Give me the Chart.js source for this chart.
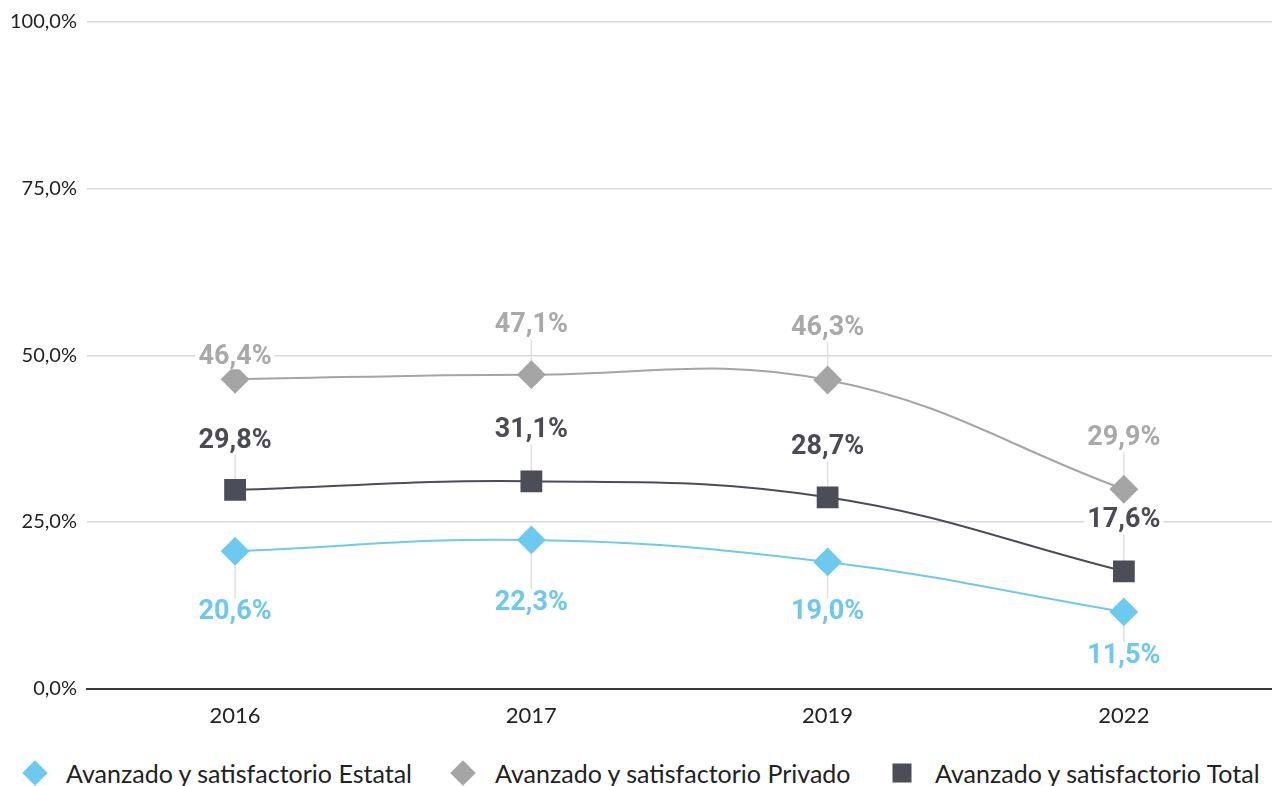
<!DOCTYPE html>
<html>
<head>
<meta charset="utf-8">
<script src="https://cdn.jsdelivr.net/npm/chart.js@4.4.0/dist/chart.umd.min.js"></script>
<style>
  html, body { margin: 0; padding: 0; background: #ffffff; overflow: hidden; }
  #page { position: relative; width: 1272px; height: 786px; overflow: hidden; }
  #wrap { position: absolute; left: 0; top: 0; width: 1272px; height: 743px; }
  #legend { position: absolute; left: 0; top: 751px; width: 1272px; height: 44px; font-family: Lato, sans-serif; font-size: 25px; color: #222222; }
  .item { position: absolute; top: 0; height: 44px; line-height: 44px; white-space: nowrap; }
  .mark { position: absolute; top: 22px; }
  .diamond { width: 18px; height: 18px; transform: translate(-50%, -50%) rotate(45deg); }
  .square { width: 19px; height: 19px; transform: translate(-50%, -50%); }
</style>
</head>
<body>
<div id="page">
  <div id="wrap"><canvas id="nivelesChart"></canvas></div>
  <div id="legend"></div>
</div>
<script>
// Data
const years = ['2016', '2017', '2019', '2022'];
const estatal = [20.6, 22.3, 19.0, 11.5];
const privado = [46.4, 47.1, 46.3, 29.9];
const total = [29.8, 31.1, 28.7, 17.6];
const yTicks = [0, 25, 50, 75, 100];

// Label placement (pixels from the point, negative = above)
const labelOffsets = {
  estatal: [61, 63, 50, 44],
  privado: [-22, -49, -52, -51],
  total: [-49, -51, -50, -51]
};

// Legend placement (marker centre x, text start x)
const legendPos = [[35, 66], [463, 495], [902, 935]];

const fmt = v => v.toFixed(1).replace('.', ',') + '%';

// Draws value labels with a thin leader line to the point
const valueLabels = {
  id: 'valueLabels',
  beforeDatasetsDraw(chart) {
    const ctx = chart.ctx;
    ctx.save();
    ctx.strokeStyle = '#e0e0e0';
    ctx.lineWidth = 1.5;
    chart.data.datasets.forEach((ds, i) => {
      const meta = chart.getDatasetMeta(i);
      meta.data.forEach((pt, j) => {
        const dy = labelOffsets[ds.key][j];
        if (Math.abs(dy) < 30) return;
        const endY = pt.y + dy + (dy < 0 ? 14 : -14);
        ctx.beginPath();
        ctx.moveTo(pt.x, pt.y);
        ctx.lineTo(pt.x, endY);
        ctx.stroke();
      });
    });
    ctx.restore();
  },
  afterDatasetsDraw(chart) {
    const ctx = chart.ctx;
    ctx.save();
    ctx.font = 'bold 27px Roboto';
    ctx.textAlign = 'center';
    ctx.textBaseline = 'middle';
    chart.data.datasets.forEach((ds, i) => {
      const meta = chart.getDatasetMeta(i);
      meta.data.forEach((pt, j) => {
        const txt = fmt(ds.data[j]);
        const y = pt.y + labelOffsets[ds.key][j];
        const w = ctx.measureText(txt).width;
        ctx.fillStyle = '#ffffff';
        ctx.fillRect(pt.x - w / 2 - 3, y - 12, w + 6, 24);
        ctx.fillStyle = ds.labelColor;
        ctx.fillText(txt, pt.x, y);
      });
    });
    ctx.restore();
  }
};

const ctx = document.getElementById('nivelesChart').getContext('2d');

const chart = new Chart(ctx, {
  type: 'line',
  data: {
    labels: years,
    datasets: [
      {
        key: 'estatal',
        label: 'Avanzado y satisfactorio Estatal',
        data: estatal,
        borderColor: '#6ccaf0',
        backgroundColor: '#6ccaf0',
        labelColor: '#6cc8ef',
        pointStyle: 'rectRot',
        pointRadius: 13,
        borderWidth: 2,
        tension: 0.4
      },
      {
        key: 'privado',
        label: 'Avanzado y satisfactorio Privado',
        data: privado,
        borderColor: '#a5a5a5',
        backgroundColor: '#a5a5a5',
        labelColor: '#a9a9a9',
        pointStyle: 'rectRot',
        pointRadius: 13,
        borderWidth: 2,
        tension: 0.4
      },
      {
        key: 'total',
        label: 'Avanzado y satisfactorio Total',
        data: total,
        borderColor: '#4b4d58',
        backgroundColor: '#4b4d58',
        labelColor: '#4a4b53',
        pointStyle: 'rect',
        pointRadius: 14,
        borderWidth: 2,
        tension: 0.4
      }
    ]
  },
  options: {
    responsive: true,
    maintainAspectRatio: false,
    animation: false,
    layout: {
      autoPadding: false,
      padding: { top: 15, left: 0, right: 0, bottom: 8 }
    },
    scales: {
      x: {
        offset: true,
        grid: { display: false },
        border: { display: true, color: '#3a3a3a', width: 2 },
        ticks: {
          color: '#222222',
          padding: 6,
          font: { family: 'Lato', size: 22 }
        }
      },
      y: {
        min: 0,
        max: 100,
        afterBuildTicks: axis => {
          axis.ticks = yTicks.map(v => ({ value: v }));
        },
        grid: { color: '#d9d9d9', lineWidth: 1.5, drawTicks: false },
        border: { display: false },
        ticks: {
          color: '#222222',
          padding: 10,
          font: { family: 'Lato', size: 20 },
          callback: v => fmt(v)
        }
      }
    },
    plugins: {
      legend: { display: false },
      tooltip: { enabled: false }
    }
  },
  plugins: [valueLabels]
});

// Legend built from the dataset list
const legendEl = document.getElementById('legend');
chart.data.datasets.forEach((ds, i) => {
  const mark = document.createElement('div');
  mark.className = 'mark ' + (ds.pointStyle === 'rect' ? 'square' : 'diamond');
  mark.style.left = legendPos[i][0] + 'px';
  mark.style.background = ds.backgroundColor;
  legendEl.appendChild(mark);
  const item = document.createElement('div');
  item.className = 'item';
  item.style.left = legendPos[i][1] + 'px';
  item.textContent = ds.label;
  legendEl.appendChild(item);
});
</script>
</body>
</html>
